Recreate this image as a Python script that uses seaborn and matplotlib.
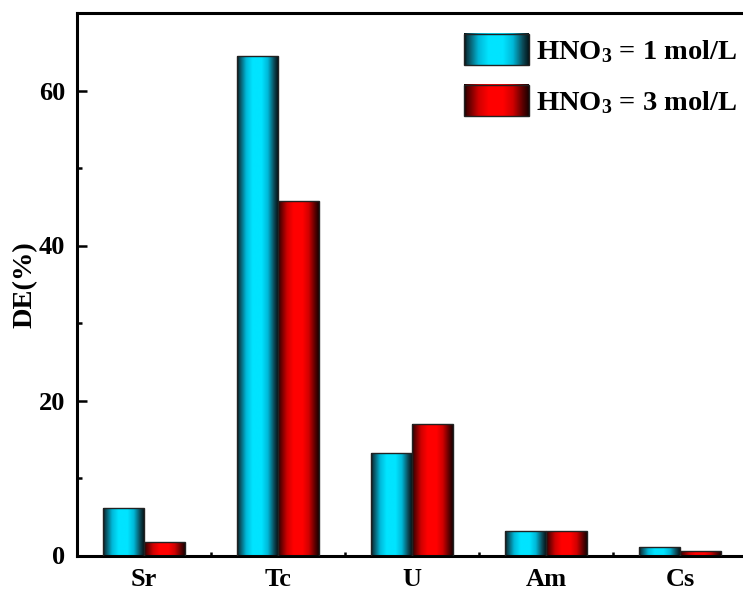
import matplotlib
matplotlib.use('Agg')
import matplotlib.pyplot as plt
import numpy as np
import pandas as pd
import seaborn as sns
from matplotlib.colors import LinearSegmentedColormap
from matplotlib.legend_handler import HandlerBase
from matplotlib.patches import Rectangle
from matplotlib.image import BboxImage
from matplotlib.transforms import Bbox, TransformedBbox
from matplotlib.ticker import MultipleLocator, FixedLocator

# data
elements = ['Sr', 'Tc', 'U', 'Am', 'Cs']
de_1M = [6.1, 64.4, 13.2, 3.1, 1.1]
de_3M = [1.7, 45.8, 17.0, 3.1, 0.6]
series = [r'HNO$_\mathbf{3}$ = 1 mol/L', r'HNO$_\mathbf{3}$ = 3 mol/L']

df = pd.DataFrame({
    'element': elements * 2,
    'DE': de_1M + de_3M,
    'acid': [series[0]] * 5 + [series[1]] * 5,
})

sns.set_style('ticks')
plt.rcParams['font.family'] = ['Liberation Serif', 'DejaVu Serif']
plt.rcParams['font.weight'] = 'bold'
plt.rcParams['mathtext.fontset'] = 'custom'
plt.rcParams['mathtext.rm'] = 'Liberation Serif:bold'
plt.rcParams['mathtext.bf'] = 'Liberation Serif:bold'
plt.rcParams['mathtext.it'] = 'Liberation Serif:bold'
for key in ['text.color', 'axes.labelcolor', 'xtick.color', 'ytick.color', 'axes.edgecolor']:
    plt.rcParams[key] = 'black'

# cylinder-like shading maps: dark edge -> bright colour
cmaps = [
    LinearSegmentedColormap.from_list('cy', ['#000000', '#0b4a58', '#00b8d8', '#00e4ff']),
    LinearSegmentedColormap.from_list('rd', ['#000000', '#5a0000', '#d00000', '#ff0000']),
]
t = np.linspace(0, 1, 200)
prof = np.interp(t, [0, 0.05, 0.38, 0.6, 0.9, 1.0], [0.05, 0.3, 1.0, 1.0, 0.35, 0.1])
grad = prof[np.newaxis, :]

fig = plt.figure(figsize=(7.43, 5.90), dpi=100)
ax = fig.add_axes([77 / 743, 1 - 555.5 / 590, 670 / 743, (555.5 - 13) / 590])

sns.barplot(data=df, x='element', y='DE', hue='acid', order=elements,
            hue_order=series, width=0.61, ax=ax, legend=False,
            palette=['#00e4ff', '#ff0000'], saturation=1)

bars = [p for p in ax.patches if isinstance(p, Rectangle)]
for i, p in enumerate(bars):
    k = i // len(elements)
    x, y = p.get_x(), p.get_y()
    w, h = p.get_width(), p.get_height()
    im = ax.imshow(grad, extent=[x, x + w, y, y + h], aspect='auto',
                   cmap=cmaps[k], vmin=0, vmax=1, zorder=2, interpolation='bilinear')
    im.set_clip_path(p)
    p.set_facecolor('none')
    p.set_edgecolor('#222222')
    p.set_linewidth(1.0)
    p.set_zorder(3)

ax.set_xlim(-0.5, 4.5)
ax.set_ylim(0, 70)

ax.set_xlabel('')
ax.set_ylabel('DE(%)', fontsize=20.5, fontweight='bold', labelpad=1)
ax.yaxis.set_major_locator(MultipleLocator(20))
ax.yaxis.set_minor_locator(MultipleLocator(10))
ax.xaxis.set_minor_locator(FixedLocator([0.5, 1.5, 2.5, 3.5]))
ax.tick_params(axis='y', which='major', direction='in', length=7.5, width=1.8,
               labelsize=19, pad=8.5)
ax.tick_params(axis='y', which='minor', direction='in', length=3.5, width=1.8)
ax.tick_params(axis='x', which='both', direction='in', length=3, width=1.8,
               labelsize=19, pad=9)
for lab in ax.get_xticklabels() + ax.get_yticklabels():
    lab.set_fontweight('bold')

for s in ['left', 'bottom', 'top']:
    ax.spines[s].set_linewidth(2.2)
ax.spines['right'].set_visible(False)


class GradHandler(HandlerBase):
    def __init__(self, cmap):
        super().__init__()
        self.cmap = cmap

    def create_artists(self, legend, orig_handle, xdescent, ydescent,
                       width, height, fontsize, trans):
        bb = TransformedBbox(Bbox.from_bounds(-xdescent, -ydescent, width, height), trans)
        img = BboxImage(bb, cmap=self.cmap, interpolation='bilinear')
        img.set_data(grad)
        img.set_clim(0, 1)
        rect = Rectangle((-xdescent, -ydescent), width, height, transform=trans,
                         facecolor='none', edgecolor='#222222', linewidth=1.0)
        return [img, rect]


h1 = Rectangle((0, 0), 1, 1)
h2 = Rectangle((0, 0), 1, 1)
leg = ax.legend([h1, h2], series, handler_map={h1: GradHandler(cmaps[0]), h2: GradHandler(cmaps[1])},
                loc='upper right', bbox_to_anchor=(737 / 743, 1 - 34 / 590),
                bbox_transform=fig.transFigure, frameon=False,
                prop={'family': 'Liberation Serif', 'weight': 'bold', 'size': 20.5},
                handlelength=2.26, handleheight=1.3, labelspacing=0.7,
                handletextpad=0.25, borderaxespad=0, borderpad=0)

fig.savefig('out.png', dpi=100)
